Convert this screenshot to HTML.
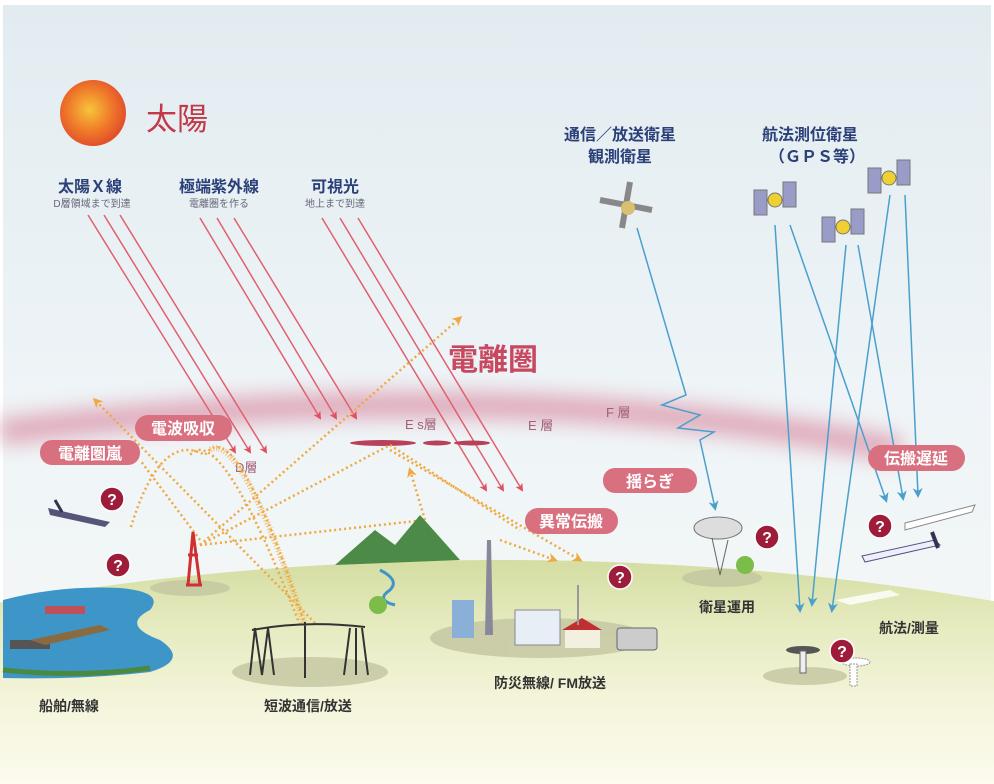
<!DOCTYPE html>
<html><head><meta charset="utf-8"><style>
html,body{margin:0;padding:0;background:#fff;overflow:hidden;width:994px;height:784px}
svg{display:block}
text{font-family:"Liberation Sans","Noto Sans CJK JP",sans-serif}
</style></head><body>
<svg width="994" height="784" viewBox="0 0 994 784" xmlns="http://www.w3.org/2000/svg">
<defs>
<linearGradient id="sky" x1="0" y1="0" x2="0" y2="1">
<stop offset="0" stop-color="#e2ecf0"/><stop offset="0.5" stop-color="#eef4f7"/><stop offset="1" stop-color="#f6f8f6"/>
</linearGradient>
<linearGradient id="gnd" gradientUnits="userSpaceOnUse" x1="0" y1="560" x2="0" y2="784">
<stop offset="0" stop-color="#d4dda2"/><stop offset="0.3" stop-color="#e6ebc0"/><stop offset="0.65" stop-color="#f5f5dc"/><stop offset="1" stop-color="#fcfbee"/>
</linearGradient>
<radialGradient id="sun" cx="0.45" cy="0.45" r="0.55">
<stop offset="0" stop-color="#f8c43a"/><stop offset="0.6" stop-color="#ef7a2a"/><stop offset="1" stop-color="#e2502a"/>
</radialGradient>
<filter id="blur" x="-10%" y="-100%" width="120%" height="300%"><feGaussianBlur stdDeviation="10"/></filter>
<marker id="ra" markerWidth="8" markerHeight="8" refX="6" refY="4" orient="auto" markerUnits="userSpaceOnUse"><path d="M0,0 L8,4 L0,8 L2,4Z" fill="#e05060"/></marker>
<marker id="ba" markerWidth="10" markerHeight="10" refX="7" refY="5" orient="auto" markerUnits="userSpaceOnUse"><path d="M0,0 L10,5 L0,10 L3,5Z" fill="#4aa0cc"/></marker>
<marker id="oa" markerWidth="10" markerHeight="10" refX="7" refY="5" orient="auto" markerUnits="userSpaceOnUse"><path d="M0,0 L10,5 L0,10 L3,5Z" fill="#f0a840"/></marker>
</defs>
<rect width="994" height="784" fill="#fff"/>
<rect x="3" y="5" width="988" height="776" fill="url(#sky)"/>
<!-- ionosphere band -->
<path d="M0,432 Q500,370 900,450" stroke="#d98aa0" stroke-width="26" fill="none" filter="url(#blur)" opacity="0.7"/>
<!-- ground -->
<ellipse cx="500" cy="1200" rx="1400" ry="640" fill="url(#gnd)"/>
<!-- sun -->
<circle cx="93" cy="113" r="33" fill="url(#sun)"/>
<text x="146" y="130" font-size="31" fill="#c23848">太陽</text>
<!-- top labels -->
<g fill="#2b3f78" font-size="16" font-weight="bold" text-anchor="middle">
<text x="90" y="192">太陽Ｘ線</text><text x="219" y="192">極端紫外線</text><text x="335" y="192">可視光</text>
<text x="620" y="140">通信／放送衛星</text><text x="620" y="162">観測衛星</text>
<text x="810" y="140">航法測位衛星</text><text x="817" y="162">（ＧＰＳ等）</text>
</g>
<g fill="#667" font-size="10" text-anchor="middle">
<text x="92" y="207">D層領域まで到達</text><text x="219" y="207">電離圏を作る</text><text x="335" y="207">地上まで到達</text>
</g>
<!-- red arrows -->
<g stroke="#e06070" stroke-width="1.5" marker-end="url(#ra)">
<line x1="88" y1="215" x2="235" y2="452"/><line x1="104" y1="215" x2="250" y2="452"/><line x1="120" y1="215" x2="266" y2="452"/>
<line x1="200" y1="218" x2="320" y2="418"/><line x1="217" y1="218" x2="336" y2="418"/><line x1="234" y1="218" x2="356" y2="418"/>
<line x1="322" y1="218" x2="486" y2="490"/><line x1="340" y1="218" x2="503" y2="490"/><line x1="358" y1="218" x2="522" y2="490"/>
</g>
<!-- Es layer -->
<g fill="#b8405a"><ellipse cx="383" cy="443" rx="33" ry="3"/><ellipse cx="437" cy="443" rx="14" ry="2.5"/><ellipse cx="472" cy="443" rx="18" ry="2.5"/></g>
<text x="448" y="370" font-size="30" font-weight="bold" fill="#c84860">電離圏</text>
<g fill="#a06078" font-size="13"><text x="405" y="429">E s層</text><text x="528" y="430">E 層</text><text x="606" y="417">F 層</text><text x="235" y="472">D層</text></g>
<!-- orange dotted -->
<g stroke="#f0a840" stroke-width="2.5" stroke-dasharray="2,3" fill="none">
<line x1="315" y1="623" x2="95" y2="400" marker-end="url(#oa)"/>
<path d="M305,625 Q235,410 205,455 Q160,430 130,530"/>
<path d="M300,625 Q220,420 190,455"/>
<line x1="200" y1="545" x2="460" y2="318" marker-end="url(#oa)"/>
<line x1="200" y1="545" x2="390" y2="445"/>
<line x1="200" y1="545" x2="425" y2="520"/>
<line x1="425" y1="520" x2="410" y2="470" marker-end="url(#oa)"/>
<line x1="390" y1="445" x2="520" y2="530"/>
<line x1="390" y1="450" x2="580" y2="560" marker-end="url(#oa)"/>
<line x1="500" y1="540" x2="555" y2="560" marker-end="url(#oa)"/>
<line x1="200" y1="540" x2="140" y2="460"/>
</g>
<g stroke="#f0b050" stroke-width="6" stroke-dasharray="1,2" fill="none" opacity="0.8">
<path d="M305,625 Q240,430 210,450"/>
</g>
<!-- blue arrows -->
<g stroke="#4aa0cc" stroke-width="1.5" fill="none" marker-end="url(#ba)">
<path d="M637,228 L686,395 L662,405 L700,415 L678,428 L714,432 L700,440 L715,508"/>
<line x1="775" y1="225" x2="800" y2="610"/>
<line x1="790" y1="225" x2="886" y2="500"/>
<line x1="846" y1="245" x2="812" y2="604"/>
<line x1="858" y1="245" x2="903" y2="498"/>
<line x1="890" y1="195" x2="832" y2="610"/>
<line x1="905" y1="195" x2="918" y2="495"/>
</g>
<!-- pills -->
<g fill="#d9707f">
<rect x="40" y="440" width="100" height="25" rx="12"/><rect x="135" y="415" width="97" height="26" rx="13"/>
<rect x="525" y="508" width="93" height="26" rx="13"/><rect x="603" y="468" width="94" height="25" rx="12"/>
<rect x="868" y="445" width="97" height="26" rx="13"/>
</g>
<g fill="#fff" font-size="16" font-weight="bold" text-anchor="middle">
<text x="90" y="459">電離圏嵐</text><text x="183" y="434">電波吸収</text><text x="571" y="527">異常伝搬</text><text x="650" y="487">揺らぎ</text><text x="916" y="464">伝搬遅延</text>
</g>
<!-- lake -->
<path d="M3,600 Q60,585 120,588 Q165,592 150,610 Q120,625 160,640 Q190,660 150,672 Q80,680 3,678Z" fill="#3e95c8"/>
<path d="M3,670 Q80,678 150,668" stroke="#4a8a40" stroke-width="5" fill="none"/>
<rect x="45" y="606" width="40" height="8" fill="#c05058"/><rect x="10" y="640" width="40" height="9" fill="#555"/>
<path d="M30,640 L100,625 L110,630 L45,645Z" fill="#8a6a40"/>
<!-- mountains -->
<path d="M335,565 L375,530 L395,545 L420,515 L460,560Z" fill="#4c8a48"/>
<path d="M380,570 Q400,580 390,590 Q375,600 395,605" stroke="#3e95c8" stroke-width="3" fill="none"/>
<circle cx="378" cy="605" r="9" fill="#7cbc48"/>
<!-- shadows -->
<g fill="#c3c6a0" opacity="0.8">
<ellipse cx="190" cy="588" rx="40" ry="8"/><ellipse cx="310" cy="672" rx="78" ry="15"/><ellipse cx="540" cy="638" rx="110" ry="20"/>
<ellipse cx="722" cy="578" rx="40" ry="9"/><ellipse cx="805" cy="676" rx="42" ry="9"/>
</g>
<!-- red tower -->
<path d="M193,532 L188,585 M193,532 L200,585 M186,585 L202,585 M188,555 L198,555" stroke="#d03030" stroke-width="3" fill="none"/>
<!-- antenna towers -->
<g stroke="#333" stroke-width="2" fill="none">
<path d="M255,628 L262,675 M268,628 L262,675 M255,628 L250,675 M268,628 L274,675"/>
<path d="M350,628 L344,675 M362,628 L368,675 M356,628 L356,675"/>
<path d="M252,630 Q305,620 365,627 M305,622 L305,678"/>
</g>
<!-- city -->
<rect x="452" y="600" width="22" height="38" fill="#8ab0d8"/>
<path d="M489,540 L487,635 M489,540 L491,635" stroke="#889" stroke-width="4"/>
<rect x="515" y="610" width="45" height="35" fill="#e8eef5" stroke="#889"/>
<rect x="565" y="628" width="35" height="20" fill="#f4f0e0"/><path d="M562,630 L582,618 L602,630Z" fill="#c03030"/>
<rect x="617" y="628" width="40" height="22" rx="3" fill="#ccc" stroke="#667"/>
<line x1="578" y1="585" x2="578" y2="625" stroke="#999" stroke-width="2"/>
<!-- dish -->
<ellipse cx="718" cy="528" rx="24" ry="11" fill="#ddd" stroke="#777"/>
<path d="M712,538 L720,575 L728,540" stroke="#666" fill="none"/>
<circle cx="745" cy="565" r="9" fill="#7cbc48"/>
<!-- gps receivers -->
<ellipse cx="803" cy="650" rx="17" ry="4" fill="#555"/><rect x="800" y="651" width="6" height="22" fill="#eee" stroke="#666"/>
<ellipse cx="856" cy="662" rx="14" ry="4" fill="#fff" stroke="#999" stroke-dasharray="2,1"/><rect x="850" y="664" width="7" height="22" fill="#fff" stroke="#999" stroke-dasharray="2,1"/>
<!-- runway -->
<path d="M835,600 L890,590 L900,595 L850,605Z" fill="#fff" opacity="0.8"/>
<!-- planes -->
<path d="M48,508 L110,522 L105,527 L50,515Z" fill="#557"/><path d="M55,500 L62,512" stroke="#335" stroke-width="3"/>
<path d="M905,523 L975,505 L972,512 L905,530Z" fill="#fff" stroke="#888"/>
<path d="M862,556 L935,540 L940,545 L865,562Z" fill="#eef" stroke="#557"/><path d="M932,532 L938,548" stroke="#335" stroke-width="4"/>
<!-- satellites -->
<g>
<path d="M600,200 L652,210 M630,182 L622,228" stroke="#888" stroke-width="6"/>
<circle cx="628" cy="208" r="7" fill="#d8c070"/>
<g fill="#9a9cc8" stroke="#777">
<rect x="754" y="190" width="13" height="25"/><rect x="783" y="182" width="13" height="25"/><circle cx="775" cy="200" r="7" fill="#f0d030"/>
<rect x="822" y="217" width="13" height="25"/><rect x="851" y="209" width="13" height="25"/><circle cx="843" cy="227" r="7" fill="#f0d030"/>
<rect x="868" y="168" width="13" height="25"/><rect x="897" y="160" width="13" height="25"/><circle cx="889" cy="178" r="7" fill="#f0d030"/>
</g>
</g>
<!-- question marks -->
<g fill="#9c1c3a" stroke="#fff" stroke-width="1.5">
<circle cx="112" cy="499" r="12"/><circle cx="118" cy="565" r="12"/><circle cx="767" cy="537" r="12"/><circle cx="620" cy="577" r="12"/><circle cx="880" cy="526" r="12"/><circle cx="842" cy="651" r="12"/>
</g>
<g fill="#fff" font-size="16" font-weight="bold" text-anchor="middle">
<text x="112" y="505">?</text><text x="118" y="571">?</text><text x="767" y="543">?</text><text x="620" y="583">?</text><text x="880" y="532">?</text><text x="842" y="657">?</text>
</g>
<!-- bottom labels -->
<g fill="#333" font-size="14" font-weight="bold" text-anchor="middle">
<text x="69" y="711">船舶/無線</text><text x="308" y="711">短波通信/放送</text><text x="550" y="688">防災無線/ FM放送</text><text x="727" y="612">衛星運用</text><text x="909" y="633">航法/測量</text>
</g>
</svg>
</body></html>
